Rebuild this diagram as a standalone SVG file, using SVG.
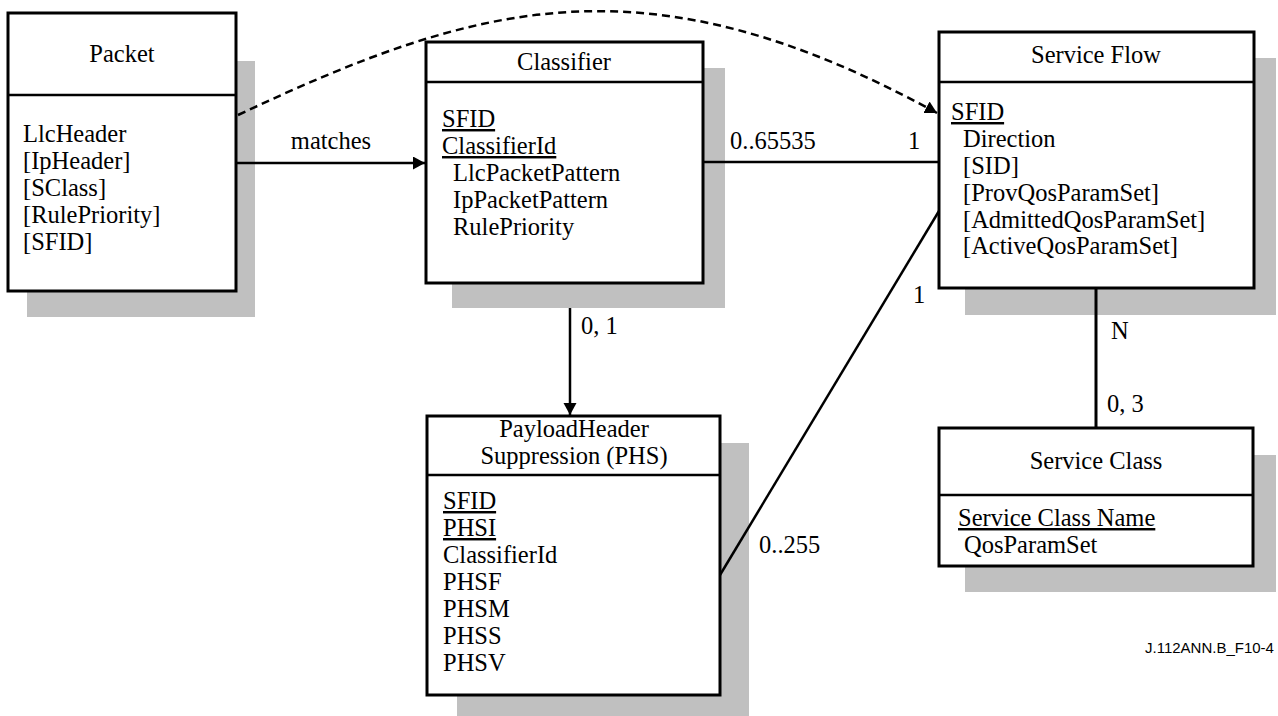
<svg xmlns="http://www.w3.org/2000/svg" width="1278" height="716" viewBox="0 0 1278 716">
<style>
  .shadow { fill: #c0c0c0; stroke: none; }
  .box { fill: #ffffff; stroke: #000000; stroke-width: 3; }
  .div { stroke: #000000; stroke-width: 2.5; fill: none; }
  text { font-family: "Liberation Serif", "Times New Roman", serif; font-size: 24.5px; fill: #000000; }
  .title { text-anchor: middle; }
  .u { text-decoration: underline; }
  .conn { stroke: #000000; stroke-width: 2.5; fill: none; }
  .dash { stroke-dasharray: 8 5; }
  .note { font-family: "Liberation Sans", Arial, sans-serif; font-size: 15px; }
</style>
<defs>
  <marker id="arrow" markerUnits="userSpaceOnUse" markerWidth="14" markerHeight="14" refX="12" refY="6.5" orient="auto">
    <path d="M0,0 L12,6.5 L0,13 z" fill="#000000"/>
  </marker>
</defs>

<g id="packet">
  <rect class="shadow" x="27" y="61" width="228" height="256"/>
  <rect class="box" x="8" y="13" width="228" height="278"/>
  <line class="div" x1="8" y1="95" x2="236" y2="95"/>
  <text class="title" x="122" y="62">Packet</text>
  <text x="23" y="142">LlcHeader</text>
  <text x="23" y="169">[IpHeader]</text>
  <text x="23" y="196">[SClass]</text>
  <text x="23" y="223">[RulePriority]</text>
  <text x="23" y="250">[SFID]</text>
</g>

<g id="classifier">
  <rect class="shadow" x="452" y="68" width="273" height="240"/>
  <rect class="box" x="426" y="42" width="277" height="241"/>
  <line class="div" x1="426" y1="82" x2="703" y2="82"/>
  <text class="title" x="564" y="70">Classifier</text>
  <text class="u" x="442" y="127">SFID</text>
  <text class="u" x="442" y="154">ClassifierId</text>
  <text x="453" y="181">LlcPacketPattern</text>
  <text x="453" y="208">IpPacketPattern</text>
  <text x="453" y="235">RulePriority</text>
</g>

<g id="service-flow">
  <rect class="shadow" x="965" y="58" width="311" height="257"/>
  <rect class="box" x="939" y="32" width="315" height="256"/>
  <line class="div" x1="939" y1="82" x2="1254" y2="82"/>
  <text class="title" x="1096" y="63">Service Flow</text>
  <text class="u" x="951" y="120">SFID</text>
  <text x="963" y="147">Direction</text>
  <text x="963" y="174">[SID]</text>
  <text x="963" y="201">[ProvQosParamSet]</text>
  <text x="963" y="228">[AdmittedQosParamSet]</text>
  <text x="963" y="254">[ActiveQosParamSet]</text>
</g>

<g id="phs">
  <rect class="shadow" x="457" y="443" width="292" height="277"/>
  <rect class="box" x="427" y="416" width="293" height="279"/>
  <line class="div" x1="427" y1="475" x2="720" y2="475"/>
  <text class="title" x="574" y="437">PayloadHeader</text>
  <text class="title" x="574" y="464">Suppression (PHS)</text>
  <text class="u" x="443" y="509">SFID</text>
  <text class="u" x="443" y="536">PHSI</text>
  <text x="443" y="563">ClassifierId</text>
  <text x="443" y="590">PHSF</text>
  <text x="443" y="617">PHSM</text>
  <text x="443" y="644">PHSS</text>
  <text x="443" y="671">PHSV</text>
</g>

<g id="service-class">
  <rect class="shadow" x="965" y="455" width="311" height="137"/>
  <rect class="box" x="939" y="428" width="314" height="138"/>
  <line class="div" x1="939" y1="495" x2="1253" y2="495"/>
  <text class="title" x="1096" y="469">Service Class</text>
  <text class="u" x="958" y="526">Service Class Name</text>
  <text x="964" y="553">QosParamSet</text>
</g>

<g id="connectors">
  <path class="conn dash" d="M238,115 C478,2 647,-46 937,113" marker-end="url(#arrow)"/>
  <line class="conn" x1="237" y1="163" x2="425" y2="163" marker-end="url(#arrow)"/>
  <line class="conn" x1="703" y1="162" x2="939" y2="162"/>
  <line class="conn" x1="570" y1="308" x2="570" y2="415" marker-end="url(#arrow)"/>
  <line class="conn" x1="720" y1="575" x2="939" y2="211"/>
  <line class="conn" style="stroke-width:3" x1="1096" y1="288" x2="1096" y2="428"/>
  <text x="331" y="149" text-anchor="middle">matches</text>
  <text x="730" y="149">0..65535</text>
  <text x="908" y="149">1</text>
  <text x="581" y="334">0, 1</text>
  <text x="913" y="303">1</text>
  <text x="759" y="553">0..255</text>
  <text x="1111" y="339">N</text>
  <text x="1107" y="412">0, 3</text>
</g>

<text class="note" x="1145" y="653">J.112ANN.B_F10-4</text>
</svg>
